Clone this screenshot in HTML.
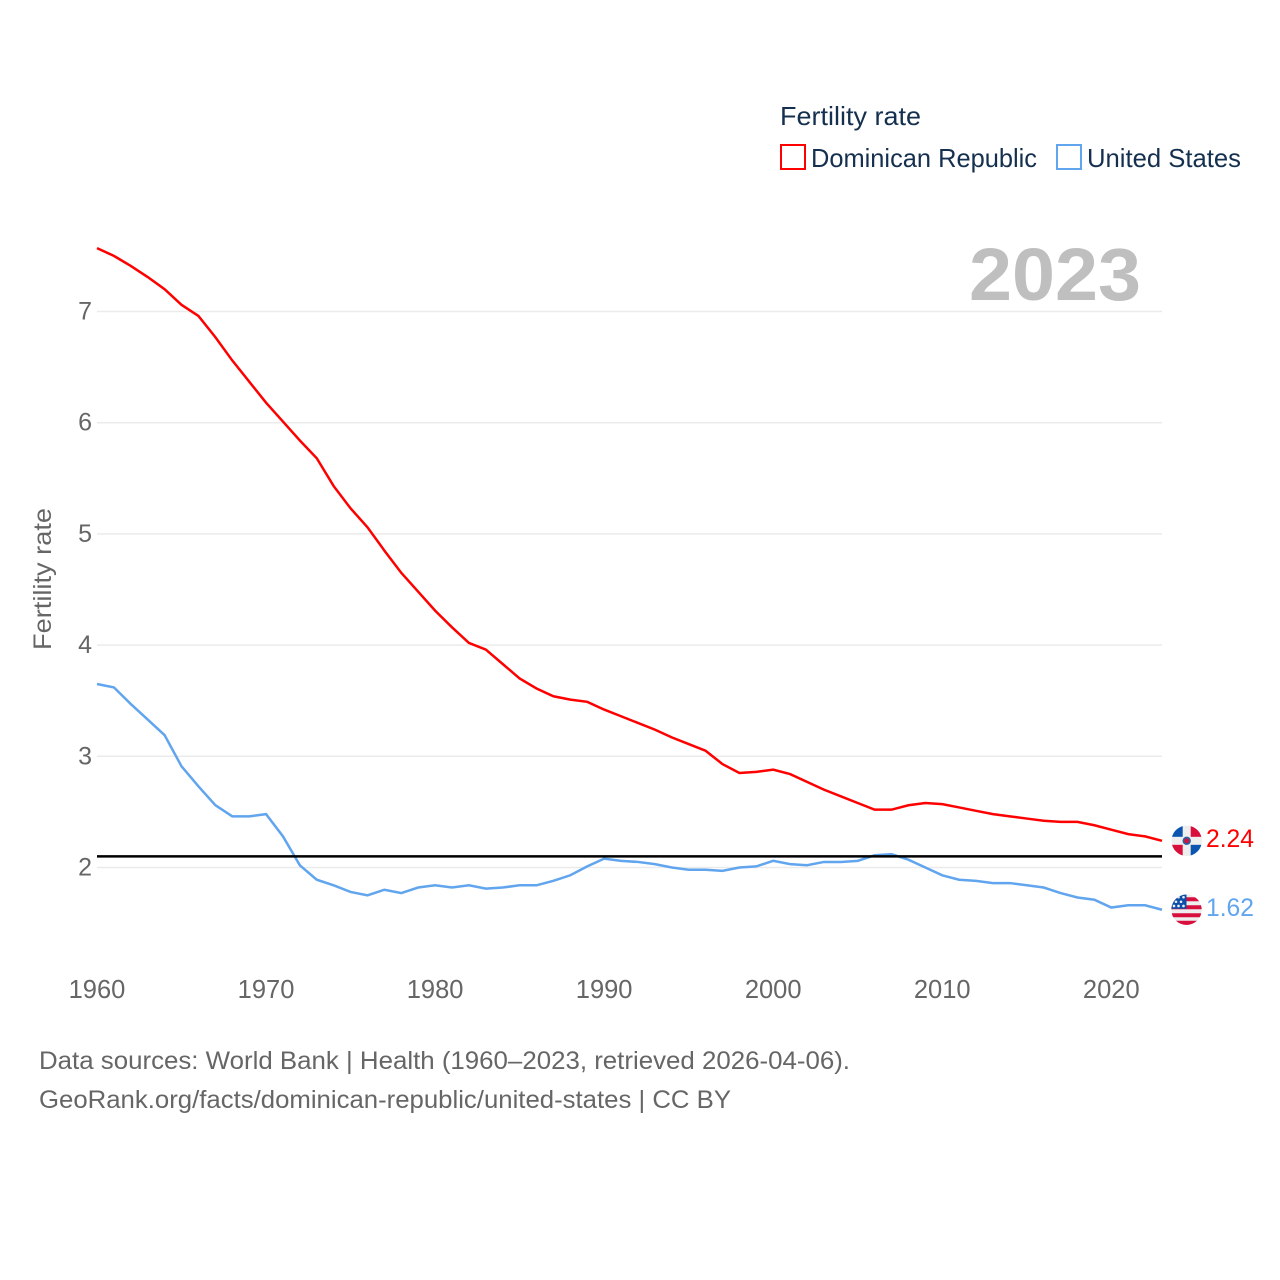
<!DOCTYPE html>
<html lang="en">
<head>
<meta charset="utf-8">
<title>Fertility rate: Dominican Republic and United States</title>
<style>
html,body{margin:0;padding:0;background:#fff;width:1280px;height:1280px;overflow:hidden}
svg{display:block}
text{font-family:"Liberation Sans",sans-serif}
</style>
</head>
<body>
<svg id="chart" xmlns="http://www.w3.org/2000/svg" width="1280" height="1280" viewBox="0 0 1280 1280">
  <defs>
    <clipPath id="flag-clip"><circle cx="0" cy="0" r="15.2"/></clipPath>
  </defs>
  <rect x="0" y="0" width="1280" height="1280" fill="#ffffff"/>

  <g>
    <text x="780" y="125" font-size="26" fill="#15304f" textLength="141" lengthAdjust="spacingAndGlyphs">Fertility rate</text>
    <g>
      <rect x="781" y="145" width="24" height="24" fill="#ffffff" stroke="#ff0000" stroke-width="2"/>
      <text x="811" y="167" font-size="26" fill="#15304f" textLength="226" lengthAdjust="spacingAndGlyphs">Dominican Republic</text>
    </g>
    <g>
      <rect x="1057" y="145" width="24" height="24" fill="#ffffff" stroke="#60a5ee" stroke-width="2"/>
      <text x="1087" y="167" font-size="26" fill="#15304f" textLength="154" lengthAdjust="spacingAndGlyphs">United States</text>
    </g>
  </g>

  <text x="969" y="300" font-size="74" font-weight="700" fill="#bfbfbf" textLength="172" lengthAdjust="spacingAndGlyphs">2023</text>

  <text transform="translate(51 650) rotate(-90)" x="0" y="0" font-size="25" fill="#666666" textLength="142" lengthAdjust="spacingAndGlyphs">Fertility rate</text>

  <g id="grid"></g>
  <g id="y-labels"></g>
  <g id="x-labels"></g>
  <g id="series"></g>

  <g id="flag-dr">
    <g clip-path="url(#flag-clip)">
      <rect x="-16" y="-16" width="32" height="32" fill="#eeeeee"/>
      <rect x="-16" y="-16" width="12" height="12" fill="#0b55b0"/>
      <rect x="4" y="-16" width="12" height="12" fill="#d80f3c"/>
      <rect x="-16" y="4" width="12" height="12" fill="#d80f3c"/>
      <rect x="4" y="4" width="12" height="12" fill="#0b55b0"/>
      <circle cx="0" cy="0" r="4.2" fill="#2f5f9e"/>
      <circle cx="0" cy="0" r="2.4" fill="#d80f3c"/>
    </g>
  </g>
  <g id="flag-us">
    <g clip-path="url(#flag-clip)">
      <rect x="-16" y="-16" width="32" height="32" fill="#eeeeee"/>
      <rect x="-16" y="-12.5" width="32" height="4" fill="#d80f3c"/>
      <rect x="-16" y="-4.5" width="32" height="4" fill="#d80f3c"/>
      <rect x="-16" y="3.5" width="32" height="4" fill="#d80f3c"/>
      <rect x="-16" y="11" width="32" height="5" fill="#d80f3c"/>
      <rect x="-16" y="-16" width="16" height="15" fill="#0b4fa8"/>
      <g fill="#eeeeee">
        <circle cx="-3" cy="-12.5" r="1.3"/><circle cx="-8" cy="-12.5" r="1.3"/>
        <circle cx="-5.5" cy="-8" r="1.3"/><circle cx="-10.5" cy="-8" r="1.3"/>
        <circle cx="-3" cy="-3.8" r="1.3"/><circle cx="-8" cy="-3.8" r="1.3"/><circle cx="-12.5" cy="-3.8" r="1.3"/>
      </g>
    </g>
  </g>
  <g id="end-labels"></g>

  <g>
    <text x="39" y="1069" font-size="25" fill="#666666" textLength="811" lengthAdjust="spacingAndGlyphs">Data sources: World Bank | Health (1960–2023, retrieved 2026-04-06).</text>
    <text x="39" y="1108" font-size="25" fill="#666666" textLength="692" lengthAdjust="spacingAndGlyphs">GeoRank.org/facts/dominican-republic/united-states | CC BY</text>
  </g>
</svg>

<script>
const startYear = 1960;
const endYear = 2023;
const yTicks = [2, 3, 4, 5, 6, 7];
const xTicks = [1960, 1970, 1980, 1990, 2000, 2010, 2020];
const referenceValue = 2.1;
const dominicanRepublic = [
  7.57, 7.50, 7.41, 7.31, 7.20, 7.06, 6.96, 6.77, 6.56, 6.37,
  6.18, 6.01, 5.84, 5.68, 5.43, 5.23, 5.06, 4.85, 4.65, 4.48,
  4.31, 4.16, 4.02, 3.96, 3.83, 3.70, 3.61, 3.54, 3.51, 3.49,
  3.42, 3.36, 3.30, 3.24, 3.17, 3.11, 3.05, 2.93, 2.85, 2.86,
  2.88, 2.84, 2.77, 2.70, 2.64, 2.58, 2.52, 2.52, 2.56, 2.58,
  2.57, 2.54, 2.51, 2.48, 2.46, 2.44, 2.42, 2.41, 2.41, 2.38,
  2.34, 2.30, 2.28, 2.24
];
const unitedStates = [
  3.65, 3.62, 3.47, 3.33, 3.19, 2.91, 2.73, 2.56, 2.46, 2.46,
  2.48, 2.28, 2.02, 1.89, 1.84, 1.78, 1.75, 1.80, 1.77, 1.82,
  1.84, 1.82, 1.84, 1.81, 1.82, 1.84, 1.84, 1.88, 1.93, 2.01,
  2.08, 2.06, 2.05, 2.03, 2.00, 1.98, 1.98, 1.97, 2.00, 2.01,
  2.06, 2.03, 2.02, 2.05, 2.05, 2.06, 2.11, 2.12, 2.07, 2.00,
  1.93, 1.89, 1.88, 1.86, 1.86, 1.84, 1.82, 1.77, 1.73, 1.71,
  1.64, 1.66, 1.66, 1.62
];

const plotLeft = 97;
const plotRight = 1162;
const NS = 'http://www.w3.org/2000/svg';

function xScale(year) {
  return plotLeft + (year - startYear) * (plotRight - plotLeft) / (endYear - startYear);
}
function yScale(value) {
  return 867.5 - (value - 2) * 111.2;
}
function linePoints(values) {
  return values.map(function (v, i) {
    return xScale(startYear + i).toFixed(2) + ',' + yScale(v).toFixed(2);
  }).join(' ');
}

const gridGroup = document.getElementById('grid');
const yLabelGroup = document.getElementById('y-labels');
const xLabelGroup = document.getElementById('x-labels');
const seriesGroup = document.getElementById('series');
const endLabelGroup = document.getElementById('end-labels');

yTicks.forEach(function (tick) {
  const line = document.createElementNS(NS, 'line');
  
  
  line.setAttribute('x1', plotLeft);
  line.setAttribute('x2', plotRight);
  line.setAttribute('y1', yScale(tick));
  line.setAttribute('y2', yScale(tick));
  line.setAttribute('stroke', '#ebebeb');
  line.setAttribute('stroke-width', '1.5');
  gridGroup.appendChild(line);

  const label = document.createElementNS(NS, 'text');
  
  
  label.setAttribute('x', 92);
  label.setAttribute('y', yScale(tick) + 8);
  label.setAttribute('text-anchor', 'end');
  label.setAttribute('font-size', '25');
  label.setAttribute('fill', '#666666');
  label.textContent = String(tick);
  yLabelGroup.appendChild(label);
});

xTicks.forEach(function (tick) {
  const label = document.createElementNS(NS, 'text');
  
  
  label.setAttribute('x', xScale(tick));
  label.setAttribute('y', 998);
  label.setAttribute('text-anchor', 'middle');
  label.setAttribute('font-size', '25.5');
  label.setAttribute('fill', '#666666');
  label.textContent = String(tick);
  xLabelGroup.appendChild(label);
});

const drLine = document.createElementNS(NS, 'polyline');


drLine.setAttribute('points', linePoints(dominicanRepublic));
drLine.setAttribute('fill', 'none');
drLine.setAttribute('stroke', '#ff0000');
drLine.setAttribute('stroke-width', '2.5');
seriesGroup.appendChild(drLine);

const usLine = document.createElementNS(NS, 'polyline');


usLine.setAttribute('points', linePoints(unitedStates));
usLine.setAttribute('fill', 'none');
usLine.setAttribute('stroke', '#60a5ee');
usLine.setAttribute('stroke-width', '2.5');
seriesGroup.appendChild(usLine);

const refLine = document.createElementNS(NS, 'line');


refLine.setAttribute('x1', plotLeft);
refLine.setAttribute('x2', plotRight);
refLine.setAttribute('y1', yScale(referenceValue));
refLine.setAttribute('y2', yScale(referenceValue));
refLine.setAttribute('stroke', '#000000');
refLine.setAttribute('stroke-width', '2.5');
seriesGroup.appendChild(refLine);

const drLast = dominicanRepublic[dominicanRepublic.length - 1];
const usLast = unitedStates[unitedStates.length - 1];

document.getElementById('flag-dr').setAttribute('transform', 'translate(1186.7 ' + yScale(drLast).toFixed(2) + ')');
document.getElementById('flag-us').setAttribute('transform', 'translate(1186.5 ' + yScale(usLast).toFixed(2) + ')');

const drLabel = document.createElementNS(NS, 'text');


drLabel.setAttribute('x', 1206);
drLabel.setAttribute('y', yScale(drLast) + 6);
drLabel.setAttribute('font-size', '25');
drLabel.setAttribute('fill', '#ff0000');
drLabel.setAttribute('textLength', '48');
drLabel.setAttribute('lengthAdjust', 'spacingAndGlyphs');
drLabel.textContent = drLast.toFixed(2);
endLabelGroup.appendChild(drLabel);

const usLabel = document.createElementNS(NS, 'text');


usLabel.setAttribute('x', 1206);
usLabel.setAttribute('y', yScale(usLast) + 6);
usLabel.setAttribute('font-size', '25');
usLabel.setAttribute('fill', '#60a5ee');
usLabel.setAttribute('textLength', '48');
usLabel.setAttribute('lengthAdjust', 'spacingAndGlyphs');
usLabel.textContent = usLast.toFixed(2);
endLabelGroup.appendChild(usLabel);
</script>
</body>
</html>
